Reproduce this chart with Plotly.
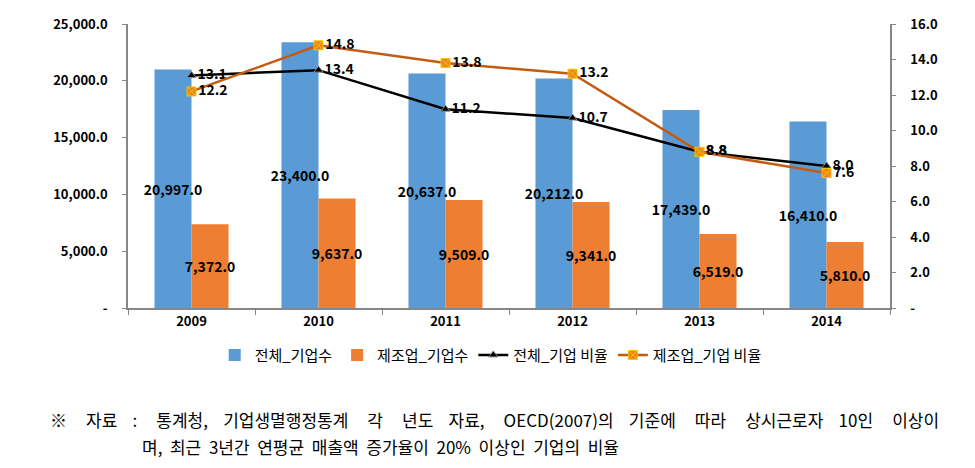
import plotly.graph_objects as go

years = ["2009", "2010", "2011", "2012", "2013", "2014"]
total_firms = [20997.0, 23400.0, 20637.0, 20212.0, 17439.0, 16410.0]
manuf_firms = [7372.0, 9637.0, 9509.0, 9341.0, 6519.0, 5810.0]
total_ratio = [13.1, 13.4, 11.2, 10.7, 8.8, 8.0]
manuf_ratio = [12.2, 14.8, 13.8, 13.2, 8.8, 7.6]

left_ticks = [0, 5000, 10000, 15000, 20000, 25000]
left_ticktext = ["-", "5,000.0", "10,000.0", "15,000.0", "20,000.0", "25,000.0"]
right_ticks = [0, 2, 4, 6, 8, 10, 12, 14, 16]
right_ticktext = ["-", "2.0", "4.0", "6.0", "8.0", "10.0", "12.0", "14.0", "16.0"]

note1_words = ["※", "자료", ":", "통계청,", "기업생멸행정통계", "각", "년도", "자료,",
               "OECD(2007)의", "기준에", "따라", "상시근로자", "10인", "이상이"]
note2_words = ["며,", "최근", "3년간", "연평균", "매출액", "증가율이", "20%", "이상인", "기업의", "비율"]
gaps1 = [5, 4, 5, 4, 5, 5, 4, 5, 4, 5, 5, 4, 5]
note1 = note1_words[0] + "".join("\u00a0" * g + w for g, w in zip(gaps1, note1_words[1:]))
note2 = ("\u00a0" * 2).join(note2_words)

FONT = "Noto Sans CJK KR"
blue = "#5B9BD5"
orange = "#EE7E32"

fig = go.Figure()
fig.add_trace(go.Bar(
    x=years, y=total_firms, name="전체_기업수",
    marker=dict(color=blue, line=dict(width=0)),
    text=[f"{v:,.1f}" for v in total_firms],
    textposition="inside", insidetextanchor="middle", textangle=0,
    textfont=dict(family=FONT, size=14, color="black", weight="bold"),
))
fig.add_trace(go.Bar(
    x=years, y=manuf_firms, name="제조업_기업수",
    marker=dict(color=orange, line=dict(width=0)),
    text=[f"{v:,.1f}" for v in manuf_firms],
    textposition="inside", insidetextanchor="middle", textangle=0,
    textfont=dict(family=FONT, size=14, color="black", weight="bold"),
))
fig.add_trace(go.Scatter(
    x=years, y=total_ratio, name="전체_기업 비율", yaxis="y2",
    mode="lines+markers+text",
    line=dict(color="black", width=2.5),
    marker=dict(symbol="triangle-up", size=8, color="black", line=dict(color="#888888", width=1)),
    text=[f"{v:.1f}" for v in total_ratio], textposition="middle right",
    textfont=dict(family=FONT, size=14, color="black", weight="bold"),
    cliponaxis=False,
))
fig.add_trace(go.Scatter(
    x=years, y=manuf_ratio, name="제조업_기업 비율", yaxis="y2",
    mode="lines+markers+text",
    line=dict(color="#C55A11", width=2.5),
    marker=dict(symbol="square-x", size=9, color="#E8861E", line=dict(color="#FFC000", width=1)),
    text=[f"{v:.1f}" for v in manuf_ratio], textposition="middle right",
    textfont=dict(family=FONT, size=14, color="black", weight="bold"),
    cliponaxis=False,
))

axis_grey = "#868686"
fig.update_layout(
    width=975, height=468,
    margin=dict(l=128, r=85, t=24, b=160),
    paper_bgcolor="white", plot_bgcolor="white",
    barmode="group", bargap=0.417, bargroupgap=0,
    uniformtext=dict(minsize=14, mode="show"),
    font=dict(family=FONT, size=13, color="black"),
    xaxis=dict(
        type="category", showline=True, linecolor=axis_grey, linewidth=2,
        ticks="outside", tickson="boundaries", ticklen=5, tickcolor=axis_grey,
        tickfont=dict(family=FONT, size=13, color="black", weight="bold"),
        showgrid=False, zeroline=False,
    ),
    yaxis=dict(
        range=[0, 25000], tickvals=left_ticks, ticktext=left_ticktext,
        showline=True, linecolor=axis_grey, linewidth=1.5,
        ticks="outside", ticklen=4, tickcolor=axis_grey,
        tickfont=dict(family=FONT, size=13, color="black", weight="bold"),
        showgrid=False, zeroline=False, ticklabelstandoff=12,
    ),
    yaxis2=dict(
        range=[0, 16], tickvals=right_ticks, ticktext=right_ticktext,
        overlaying="y", side="right",
        showline=True, linecolor=axis_grey, linewidth=1.5,
        ticks="outside", ticklen=4, tickcolor=axis_grey,
        tickfont=dict(family=FONT, size=13, color="black", weight="bold"),
        showgrid=False, zeroline=False, ticklabelstandoff=12,
    ),
    legend=dict(
        orientation="h", x=0.476, xanchor="center", y=-0.166, yanchor="middle",
        font=dict(family=FONT, size=15, color="black"),
        itemwidth=30, tracegroupgap=0,
    ),
    showlegend=True,
)

fig.add_annotation(text=note1, xref="paper", yref="paper", x=-0.105, y=-0.391,
                   xanchor="left", yanchor="middle", showarrow=False,
                   font=dict(family=FONT, size=17, color="black"))
fig.add_annotation(text=note2, xref="paper", yref="paper", x=0.0157, y=-0.486,
                   xanchor="left", yanchor="middle", showarrow=False,
                   font=dict(family=FONT, size=17, color="black"))

fig.write_html("out.html")
